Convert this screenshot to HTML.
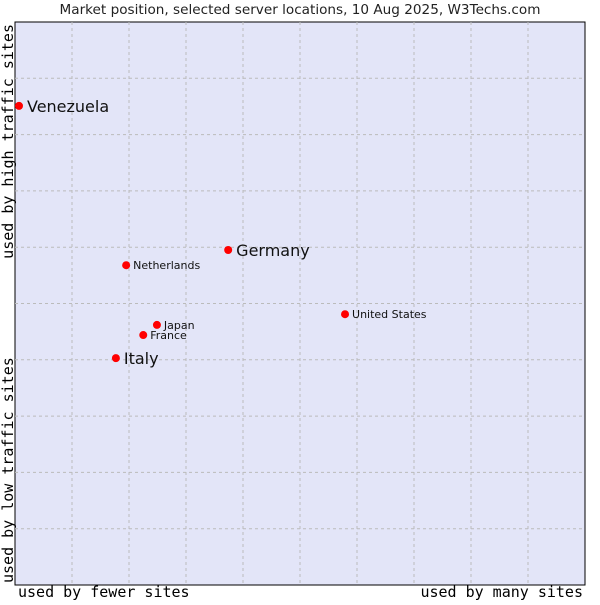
<!DOCTYPE html>
<html><head><meta charset="utf-8"><style>
body{margin:0;background:#fff;width:600px;height:600px;overflow:hidden}
svg text{font-family:"DejaVu Sans",sans-serif}
</style></head><body>
<svg id="chart" width="600" height="600" xmlns="http://www.w3.org/2000/svg">
<text x="300" y="14" text-anchor="middle" font-size="13.6" fill="#222">Market position, selected server locations, 10 Aug 2025, W3Techs.com</text>
<rect x="15" y="22" width="570" height="563" fill="#e3e5f8" stroke="#000" stroke-width="1"/>
<g id="grid"></g>
<g id="points"></g>
<text x="18" y="597" style="font-family:'DejaVu Sans Mono',monospace" font-size="15" fill="#000">used by fewer sites</text>
<text x="583" y="597" text-anchor="end" style="font-family:'DejaVu Sans Mono',monospace" font-size="15" fill="#000">used by many sites</text>
<text transform="translate(13,24) rotate(-90)" text-anchor="end" style="font-family:'DejaVu Sans Mono',monospace" font-size="15" fill="#000">used by high traffic sites</text>
<text transform="translate(13,583) rotate(-90)" text-anchor="start" style="font-family:'DejaVu Sans Mono',monospace" font-size="15" fill="#000">used by low traffic sites</text>
</svg>
<script>
const countries=["Venezuela","Germany","Netherlands","United States","Japan","France","Italy"];
const usage=[0.07,3.74,1.95,5.79,2.49,2.25,1.77];
const traffic=[8.51,5.95,5.68,4.81,4.62,4.44,4.03];
const big=[true,true,false,false,false,false,true];
const X0=15,X1=585,Y0=585,Y1=22;
const sx=v=>X0+v/10*(X1-X0), sy=v=>Y0-v/10*(Y0-Y1);
const ns="http://www.w3.org/2000/svg";
const grid=document.getElementById('grid'), pts=document.getElementById('points');
for(let i=1;i<10;i++){
  let l=document.createElementNS(ns,'line');
  
  
  l.setAttribute('x1',sx(i));l.setAttribute('x2',sx(i));l.setAttribute('y1',Y1);l.setAttribute('y2',Y0);
  l.setAttribute('stroke','#bbb');l.setAttribute('stroke-dasharray','3,3');grid.appendChild(l);
  let h=document.createElementNS(ns,'line');
  
  
  h.setAttribute('x1',X0);h.setAttribute('x2',X1);h.setAttribute('y1',sy(i));h.setAttribute('y2',sy(i));
  h.setAttribute('stroke','#bbb');h.setAttribute('stroke-dasharray','3,3');grid.appendChild(h);
}
countries.forEach((c,i)=>{
  const x=sx(usage[i]),y=sy(traffic[i]);
  let d=document.createElementNS(ns,'circle');
  
  
  d.setAttribute('cx',x);d.setAttribute('cy',y);d.setAttribute('r',4);d.setAttribute('fill','#f00');
  pts.appendChild(d);
  let t=document.createElementNS(ns,'text');
  
  
  t.setAttribute('x',x+(big[i]?8:7));t.setAttribute('y',y+(big[i]?6:4));
  t.setAttribute('font-size',big[i]?16:11);t.setAttribute('fill','#111');
  t.textContent=c;pts.appendChild(t);
});
</script>
</body></html>
